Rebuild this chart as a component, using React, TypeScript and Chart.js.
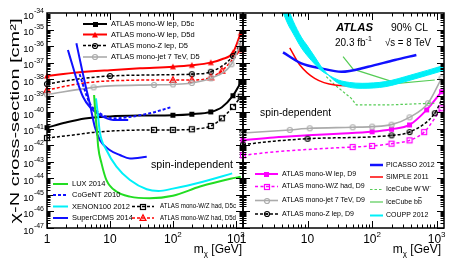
import React, { useEffect, useRef } from "react";
import { Chart, registerables } from "chart.js";
Chart.register(...registerables);

const W = 457;
const H = 264;
const FONT = '"Liberation Sans", Arial, Helvetica, sans-serif';

// ---------- axes ----------
const xMin = 1;
const xMax = 1300;
const yMin = 1e-47;
const yMax = 1e-34;
const yTickExps = [-34, -35, -36, -37, -38, -39, -40, -41, -42, -43, -44, -45, -46, -47];
const xTickValues = [1, 10, 100, 1000];
const xTickBases = ["1", "10", "10", "10"];
const xTickSups = ["", "", "2", "3"];

// ---------- spin-independent (left) ----------
const wlepD5cMass = [1, 2, 4, 10, 30, 100, 200, 400, 600, 900, 1200];
const wlepD5cXs = [1.17e-41, 2.4e-41, 4.2e-41, 5.6e-41, 6.3e-41, 6.6e-41, 7.6e-41, 1.05e-40, 2.0e-40, 1.0e-39, 6.3e-39];
const wlepD5cMarks = [1, 100, 200, 400, 900, 1200];

const wlepD5dMass = [1, 3, 10, 30, 100, 200, 400, 600, 900, 1200];
const wlepD5dXs = [1.55e-38, 2.5e-38, 3.5e-38, 4.5e-38, 5.6e-38, 6.9e-38, 1.0e-37, 1.6e-37, 4.0e-37, 6.3e-36];
const wlepD5dMarks = [1, 100, 200, 400, 900, 1200];

const zlepD5Mass = [1, 3, 10, 50, 200, 400, 900, 1200];
const zlepD5Xs = [5.1e-39, 1.0e-38, 1.55e-38, 1.8e-38, 2.0e-38, 2.8e-38, 2.5e-37, 1.6e-36];
const zlepD5Marks = [1, 10, 200, 400, 900];

const wzhadD5dMass = [1, 3, 10, 100, 200, 400, 600, 850, 1200];
const wzhadD5dXs = [2.2e-39, 5.0e-39, 7.9e-39, 8.9e-39, 8.9e-39, 1.26e-38, 3.2e-38, 1.26e-37, 6.3e-37];
const wzhadD5dMarks = [1, 100, 200, 400, 600, 1200];

const monojetD5Mass = [1, 5.5, 10, 50, 100, 200, 400, 850, 1200];
const monojetD5Xs = [1.2e-39, 3.2e-39, 3.9e-39, 4.5e-39, 4.8e-39, 5.9e-39, 1.12e-38, 7.9e-38, 1.6e-36];
const monojetD5Marks = [1, 5.5, 50, 100, 200, 400, 850, 1200];

const wzhadD5cMass = [1, 3, 6, 50, 100, 200, 400, 600, 900, 1200];
const wzhadD5cXs = [2.75e-42, 4.5e-42, 6.3e-42, 8.5e-42, 8.5e-42, 9.3e-42, 1.48e-41, 4.3e-41, 2.1e-40, 8.7e-40];
const wzhadD5cMarks = [1, 50, 100, 200, 400, 600, 900, 1200];

const luxMass = [5.6, 5.9, 6.25, 6.5, 7.35, 8.8, 12.7, 20.8, 43, 100, 270, 820, 1200];
const luxXs = [1.1e-39, 6.3e-41, 6.3e-42, 8.3e-43, 8.1e-44, 7.9e-45, 1.6e-45, 7.9e-46, 6.3e-46, 8.9e-46, 3.2e-45, 9.5e-45, 1.26e-44];

const xenonMass = [6.0, 6.5, 6.9, 8.8, 12.7, 20.8, 38.4, 59, 100, 300, 875];
const xenonXs = [6.9e-40, 5.0e-41, 6.3e-42, 5.2e-43, 5.1e-44, 7.9e-45, 2.2e-45, 1.74e-45, 2.4e-45, 6.3e-45, 2.0e-44];

const superCdmsMass = [2.93, 3.52, 4.13, 4.77, 5.74, 6.9, 9.9, 14.4, 20.8, 38.4];
const superCdmsXs = [1.48e-36, 5.6e-38, 3.5e-39, 3.5e-40, 1.35e-41, 2.1e-42, 5.2e-43, 2.6e-43, 1.6e-43, 2.0e-43];

const blueUMass = [2.15, 2.58, 3.1, 3.73, 4.77, 6.9, 11.3, 19.5];
const blueUXs = [5.8e-37, 5.6e-38, 5.6e-39, 8.7e-40, 2.1e-40, 6.8e-41, 3.4e-41, 3.4e-41];

const cogentMass = [3.3, 3.97, 4.77, 6.9, 11.3, 18.4, 43, 97];
const cogentXs = [2.0e-38, 2.2e-39, 3.5e-40, 8.7e-41, 4.3e-41, 4.9e-41, 8.7e-41, 2.1e-40];

// ---------- spin-dependent (right) ----------
const couppMass = [4, 5, 6, 8, 10, 13, 16, 21, 30, 45, 70, 160, 400, 1300];
const couppUpper = [1.6e-34, 2.0e-35, 5.6e-36, 7.9e-37, 2.5e-37, 7.9e-38, 3.5e-38, 1.78e-38, 8.9e-39, 6.3e-39, 5.6e-39, 7.1e-39, 1.78e-38, 6.8e-38];
const couppLower = [1.0e-33, 1.78e-34, 3.2e-35, 3.5e-36, 1.0e-36, 2.2e-37, 6.3e-38, 1.78e-38, 5.6e-39, 3.2e-39, 2.8e-39, 3.5e-39, 8.9e-39, 3.4e-38];

const picassoMass = [4.17, 8, 16.4, 33.4, 86.7, 225, 485];
const picassoXs = [4.2e-37, 9.1e-38, 4.5e-38, 2.8e-38, 5.6e-38, 1.45e-37, 2.9e-37];

const simpleMass = [5.3, 7.6, 12.9, 26.5, 68, 157, 400, 1300];
const simpleXs = [7.9e-37, 7.2e-38, 1.12e-38, 4.5e-39, 3.9e-39, 5.6e-39, 1.29e-38, 6.0e-38];

const icbbMass = [35.5, 50.8, 250, 935];
const icbbXs = [2.3e-37, 4.0e-38, 5.6e-39, 8.9e-39];

const icwwMass = [19.5, 26.5, 47.6, 57, 178, 460, 935];
const icwwXs = [1.41e-38, 4.5e-39, 6.9e-40, 2.75e-40, 2.75e-40, 3.2e-40, 3.5e-40];

const wlepD9Mass = [1, 3, 10, 30, 100, 200, 380, 700, 1190];
const wlepD9Xs = [2.0e-42, 3.0e-42, 4.0e-42, 5.0e-42, 6.6e-42, 9.3e-42, 1.7e-41, 1.38e-40, 1.74e-39];
const wlepD9Marks = [1, 100, 200, 380, 700, 1190];

const wzhadD9Mass = [1, 3, 10, 50, 100, 200, 380, 640, 1190];
const wzhadD9Xs = [2.5e-43, 4.0e-43, 5.6e-43, 7.9e-43, 9.1e-43, 1.26e-42, 2.0e-42, 6.3e-42, 1.74e-40];
const wzhadD9Marks = [1, 50, 100, 200, 380, 640, 1190];

const monojetD9Mass = [1, 5.3, 10.8, 50, 100, 200, 380, 735, 1190];
const monojetD9Xs = [5.5e-42, 8.5e-42, 1.07e-41, 1.23e-41, 1.35e-41, 1.78e-41, 4.9e-41, 3.5e-40, 1.12e-38];
const monojetD9Marks = [1, 5.3, 10.8, 50, 100, 200, 380, 735, 1190];

const zlepD9Mass = [1, 3, 10, 200, 380, 935, 1190];
const zlepD9Xs = [1.1e-42, 1.78e-42, 2.5e-42, 4.0e-42, 6.3e-42, 8.7e-41, 5.5e-40];
const zlepD9Marks = [1, 10, 200, 380, 935];

// ---------- texts ----------
const yTitle = "\u03c7-N cross-section [cm\u00b2]";
const leftTopLegend = ["ATLAS mono-W lep, D5c", "ATLAS mono-W lep, D5d", "ATLAS mono-Z lep, D5", "ATLAS mono-jet 7 TeV, D5"];
const leftBottomLegend = ["LUX 2014", "CoGeNT 2010", "XENON100 2012", "SuperCDMS 2014"];
const leftHadLegend = ["ATLAS mono-W/Z had, D5c", "ATLAS mono-W/Z had, D5d"];
const rightAtlasLegend = ["ATLAS mono-W lep, D9", "ATLAS mono-W/Z had, D9", "ATLAS mono-jet 7 TeV, D9", "ATLAS mono-Z lep, D9"];
const rightExpLegend = ["PICASSO 2012", "SIMPLE 2011", "IceCube W\u207aW\u207b", "IceCube b", "COUPP 2012"];

const RED = "#ff0000";
const MAG = "#ff00ff";
const GRAY = "#ababab";
const BLUE = "#1010ff";
const LUXG = "#22dd22";
const ICEG = "#55cc55";
const CYAN = "#00f0f8";

function makeMarker(kind: string, color: string, size: number): HTMLCanvasElement {
  const s = Math.ceil(size + 4);
  const c = document.createElement("canvas");
  c.width = s;
  c.height = s;
  const g = c.getContext("2d")!;
  const cx = s / 2, cy = s / 2, r = size / 2;
  g.strokeStyle = color;
  g.fillStyle = color;
  g.lineWidth = 1.2;
  if (kind === "sq") g.fillRect(cx - r, cy - r, size, size);
  else if (kind === "osq") g.strokeRect(cx - r + 0.5, cy - r + 0.5, size - 1, size - 1);
  else if (kind === "tri" || kind === "otri") {
    g.beginPath();
    g.moveTo(cx, cy - r * 1.1);
    g.lineTo(cx + r, cy + r * 0.8);
    g.lineTo(cx - r, cy + r * 0.8);
    g.closePath();
    if (kind === "tri") g.fill();
    else g.stroke();
  } else {
    g.beginPath();
    g.arc(cx, cy, r - 0.5, 0, Math.PI * 2);
    g.stroke();
    if (kind === "ocd") {
      g.beginPath();
      g.arc(cx, cy, 1, 0, Math.PI * 2);
      g.fill();
    }
  }
  return c;
}

function series(
  mass: number[], xs: number[], color: string, width: number, dash: number[] = [],
  marker?: HTMLCanvasElement, marks: number[] = [], smooth = true, clip: any = 0
) {
  return {
    data: mass.map((x, i) => ({ x, y: xs[i] })),
    borderColor: color,
    backgroundColor: color,
    borderWidth: width,
    borderDash: dash,
    pointStyle: marker || "circle",
    pointRadius: (c: any) => (marker && c.raw && marks.includes(c.raw.x) ? 3 : 0),
    cubicInterpolationMode: smooth ? "monotone" : "default",
    tension: 0,
    fill: false,
    clip,
  } as any;
}

function txt(ctx: CanvasRenderingContext2D, s: string, x: number, y: number, size: number, o: any = {}) {
  ctx.save();
  ctx.font = `${o.italic ? "italic " : ""}${o.weight || "normal"} ${size}px ${FONT}`;
  const w = ctx.measureText(s).width;
  const sx = o.width ? o.width / w : 1;
  ctx.translate(x, y);
  if (o.rot) ctx.rotate(o.rot);
  ctx.scale(sx, 1);
  ctx.textAlign = o.align || "left";
  ctx.textBaseline = "middle";
  ctx.fillStyle = o.color || "#000";
  ctx.fillText(s, 0, 0);
  ctx.restore();
  return w * sx;
}

function measure(ctx: CanvasRenderingContext2D, s: string, size: number) {
  ctx.save();
  ctx.font = `normal ${size}px ${FONT}`;
  const w = ctx.measureText(s).width;
  ctx.restore();
  return w;
}

function supLabel(ctx: CanvasRenderingContext2D, base: string, sup: string, x: number, y: number,
  size: number, supSize: number, align: string, supDy: number) {
  const wb = measure(ctx, base, size);
  const ws = sup ? measure(ctx, sup, supSize) : 0;
  const total = wb + ws;
  const x0 = align === "right" ? x - total : align === "center" ? x - total / 2 : x;
  txt(ctx, base, x0, y, size);
  if (sup) txt(ctx, sup, x0 + wb, y - supDy, supSize);
}

function legendSample(ctx: CanvasRenderingContext2D, x1: number, x2: number, y: number, color: string,
  width: number, dash: number[], marker?: HTMLCanvasElement) {
  ctx.save();
  ctx.strokeStyle = color;
  ctx.lineWidth = width;
  ctx.setLineDash(dash);
  ctx.beginPath();
  ctx.moveTo(x1, y);
  ctx.lineTo(x2, y);
  ctx.stroke();
  ctx.restore();
  if (marker) ctx.drawImage(marker, Math.round((x1 + x2) / 2 - marker.width / 2), Math.round(y - marker.height / 2));
}

function drawFrame(chart: any) {
  const { ctx, chartArea: a, scales } = chart;
  const xs = scales.x, ys = scales.y;
  ctx.save();
  ctx.strokeStyle = "#000";
  ctx.lineWidth = 1;
  ctx.beginPath();
  for (let e = -47; e <= -35; e++) {
    for (let k = 1; k <= 9; k++) {
      const py = Math.round(ys.getPixelForValue(k * Math.pow(10, e))) + 0.5;
      const len = k === 1 ? 7 : 3.5;
      ctx.moveTo(a.left, py); ctx.lineTo(a.left + len, py);
      ctx.moveTo(a.right, py); ctx.lineTo(a.right - len, py);
    }
  }
  for (let e = 0; e <= 3; e++) {
    for (let k = 1; k <= 9; k++) {
      const v = k * Math.pow(10, e);
      if (v > xMax) break;
      const px = Math.round(xs.getPixelForValue(v)) + 0.5;
      const len = k === 1 ? 7 : 3.5;
      ctx.moveTo(px, a.bottom); ctx.lineTo(px, a.bottom - len);
      ctx.moveTo(px, a.top); ctx.lineTo(px, a.top + len);
    }
  }
  ctx.stroke();
  ctx.lineWidth = 1.5;
  ctx.strokeRect(a.left, a.top, a.right - a.left, a.bottom - a.top);
  ctx.restore();
}

function drawXLabels(chart: any, titleRight: number) {
  const { ctx, scales } = chart;
  for (let i = 0; i < xTickValues.length; i++) {
    const px = scales.x.getPixelForValue(xTickValues[i]);
    supLabel(ctx, xTickBases[i], xTickSups[i], px, 240, 12, 8, "center", 5);
  }
  // m_chi [GeV]
  const s1 = "m", s2 = "\u03c7", s3 = " [GeV]";
  const w1 = measure(ctx, s1, 12), w2 = measure(ctx, s2, 8), w3 = measure(ctx, s3, 12);
  const x0 = titleRight - (w1 + w2 + w3);
  txt(ctx, s1, x0, 250, 12);
  txt(ctx, s2, x0 + w1, 254, 8);
  txt(ctx, s3, x0 + w1 + w2, 250, 12);
}

export default function App() {
  const leftRef = useRef<HTMLCanvasElement>(null);
  const rightRef = useRef<HTMLCanvasElement>(null);

  useEffect(() => {
    const mSq = makeMarker("sq", "#000", 5);
    const mTri = makeMarker("tri", RED, 6);
    const mOcdK = makeMarker("ocd", "#000", 6);
    const mOcG = makeMarker("oc", GRAY, 6);
    const mOsqK = makeMarker("osq", "#000", 6);
    const mOtriR = makeMarker("otri", RED, 6);
    const mSqM = makeMarker("sq", MAG, 5);
    const mOsqM = makeMarker("osq", MAG, 6);

    const scales = {
      x: { type: "logarithmic", min: xMin, max: xMax, display: false },
      y: { type: "logarithmic", min: yMin, max: yMax, display: false },
    };

    const leftDeco = {
      id: "leftDeco",
      afterDraw(chart: any) {
        const ctx = chart.ctx as CanvasRenderingContext2D;
        drawFrame(chart);
        for (const e of yTickExps) {
          const py = chart.scales.y.getPixelForValue(Math.pow(10, e));
          supLabel(ctx, "10", String(e), 44, py + 3, 9.5, 7, "right", 5);
        }
        drawXLabels(chart, 242);
        txt(ctx, yTitle, 15, 121, 13, { rot: -Math.PI / 2, align: "center", width: 205 });
        // top legend
        const ty = [24, 34.5, 45.5, 57];
        legendSample(ctx, 83, 107, ty[0], "#000", 2, [], mSq);
        legendSample(ctx, 83, 107, ty[1], RED, 2, [], mTri);
        legendSample(ctx, 83, 107, ty[2], "#000", 1.6, [3, 2], mOcdK);
        legendSample(ctx, 83, 107, ty[3], GRAY, 1.6, [], mOcG);
        leftTopLegend.forEach((s, i) => txt(ctx, s, 111, ty[i], 7.5));
        // bottom-left legend
        const by = [184, 195, 206.5, 218];
        legendSample(ctx, 53, 68, by[0], LUXG, 2, []);
        legendSample(ctx, 53, 68, by[1], BLUE, 2, [3, 2]);
        legendSample(ctx, 53, 68, by[2], CYAN, 2, []);
        legendSample(ctx, 53, 68, by[3], BLUE, 2, []);
        leftBottomLegend.forEach((s, i) => txt(ctx, s, 72, by[i], 7.5));
        // had legend
        const hy = [206.5, 218];
        legendSample(ctx, 132, 154, hy[0], "#000", 1.5, [3, 2], mOsqK);
        legendSample(ctx, 132, 154, hy[1], RED, 1.5, [3, 2], mOtriR);
        leftHadLegend.forEach((s, i) => txt(ctx, s, 160, hy[i], 6.5, { width: 76 }));
        txt(ctx, "spin-independent", 151, 165, 10.5, { width: 82 });
      },
    };

    const rightDeco = {
      id: "rightDeco",
      afterDraw(chart: any) {
        const ctx = chart.ctx as CanvasRenderingContext2D;
        drawFrame(chart);
        drawXLabels(chart, 441);
        txt(ctx, "ATLAS", 336, 28, 11, { weight: "bold", italic: true, width: 37 });
        txt(ctx, "90% CL", 391, 28, 10, { width: 37 });
        supLabel(ctx, "20.3 fb", "-1", 335, 43, 10, 7, "left", 4);
        txt(ctx, "\u221as = 8 TeV", 385, 43, 10, { width: 46 });
        txt(ctx, "spin-dependent", 260, 113, 10.5, { width: 71 });
        const ay = [174, 186.5, 200.5, 214];
        legendSample(ctx, 255, 278, ay[0], MAG, 2, [], mSqM);
        legendSample(ctx, 255, 278, ay[1], MAG, 1.5, [3, 2.5], mOsqM);
        legendSample(ctx, 255, 278, ay[2], GRAY, 1.6, [], mOcG);
        legendSample(ctx, 255, 278, ay[3], "#000", 1.5, [3, 2], mOcdK);
        rightAtlasLegend.forEach((s, i) => txt(ctx, s, 282, ay[i], 7));
        const ey = [165, 177, 189.5, 202, 215.5];
        legendSample(ctx, 370, 383, ey[0], BLUE, 2.5, []);
        legendSample(ctx, 370, 383, ey[1], RED, 1.5, []);
        legendSample(ctx, 370, 383, ey[2], ICEG, 1.2, [2.5, 2]);
        legendSample(ctx, 370, 383, ey[3], ICEG, 1.2, []);
        legendSample(ctx, 370, 383, ey[4], CYAN, 2, []);
        rightExpLegend.forEach((s, i) => {
          const w = txt(ctx, s, 386, ey[i], 7);
          if (i === 3) {
            const wb = measure(ctx, "b", 7);
            txt(ctx, "b", 386 + w, ey[i], 7);
            ctx.save();
            ctx.strokeStyle = "#000";
            ctx.lineWidth = 0.7;
            ctx.beginPath();
            ctx.moveTo(386 + w + 0.3, ey[i] - 4.5);
            ctx.lineTo(386 + w + wb - 0.3, ey[i] - 4.5);
            ctx.stroke();
            ctx.restore();
          }
        });
      },
    };

    const left = new Chart(leftRef.current!, {
      type: "line",
      data: {
        datasets: [
          series(luxMass, luxXs, LUXG, 2),
          series(xenonMass, xenonXs, CYAN, 2),
          series(superCdmsMass, superCdmsXs, BLUE, 2),
          series(blueUMass, blueUXs, BLUE, 2),
          series(cogentMass, cogentXs, BLUE, 2, [3, 2]),
          series(wzhadD5cMass, wzhadD5cXs, "#000", 1.5, [3, 2], mOsqK, wzhadD5cMarks, true, false),
          series(monojetD5Mass, monojetD5Xs, GRAY, 1.6, [], mOcG, monojetD5Marks, true, false),
          series(wzhadD5dMass, wzhadD5dXs, RED, 1.5, [3, 2], mOtriR, wzhadD5dMarks, true, false),
          series(zlepD5Mass, zlepD5Xs, "#000", 1.5, [3, 2], mOcdK, zlepD5Marks, true, false),
          series(wlepD5dMass, wlepD5dXs, RED, 2, [], mTri, wlepD5dMarks, true, false),
          series(wlepD5cMass, wlepD5cXs, "#000", 2, [], mSq, wlepD5cMarks, true, false),
        ],
      },
      options: {
        animation: false,
        responsive: false,
        events: [],
        layout: { padding: { left: 47, right: 214, top: 13, bottom: 36 } },
        scales: scales as any,
        plugins: { legend: { display: false }, tooltip: { enabled: false } },
      },
      plugins: [leftDeco],
    } as any);

    const right = new Chart(rightRef.current!, {
      type: "line",
      data: {
        datasets: [
          { ...series(couppMass, couppUpper, CYAN, 1), fill: "+1", backgroundColor: CYAN },
          series(couppMass, couppLower, CYAN, 1),
          series(picassoMass, picassoXs, BLUE, 2.5),
          series(simpleMass, simpleXs, RED, 1.5),
          series(icbbMass, icbbXs, ICEG, 1.2, [], undefined, [], false),
          series(icwwMass, icwwXs, ICEG, 1.2, [2.5, 2], undefined, [], false),
          series(zlepD9Mass, zlepD9Xs, "#000", 1.5, [3, 2], mOcdK, zlepD9Marks, true, false),
          series(wzhadD9Mass, wzhadD9Xs, MAG, 1.5, [3, 2.5], mOsqM, wzhadD9Marks, true, false),
          series(monojetD9Mass, monojetD9Xs, GRAY, 1.6, [], mOcG, monojetD9Marks, true, false),
          series(wlepD9Mass, wlepD9Xs, MAG, 2, [], mSqM, wlepD9Marks, true, false),
        ],
      },
      options: {
        animation: false,
        responsive: false,
        events: [],
        layout: { padding: { left: 243, right: 13, top: 13, bottom: 36 } },
        scales: scales as any,
        plugins: { legend: { display: false }, tooltip: { enabled: false }, filler: { propagate: false } },
      },
      plugins: [rightDeco],
    } as any);

    return () => {
      left.destroy();
      right.destroy();
    };
  }, []);

  return (
    <div style={{ position: "fixed", left: 0, top: 0, width: W, height: H, background: "#fff" }}>
      <canvas ref={leftRef} width={W} height={H} style={{ position: "absolute", left: 0, top: 0 }} />
      <canvas ref={rightRef} width={W} height={H} style={{ position: "absolute", left: 0, top: 0 }} />
    </div>
  );
}
